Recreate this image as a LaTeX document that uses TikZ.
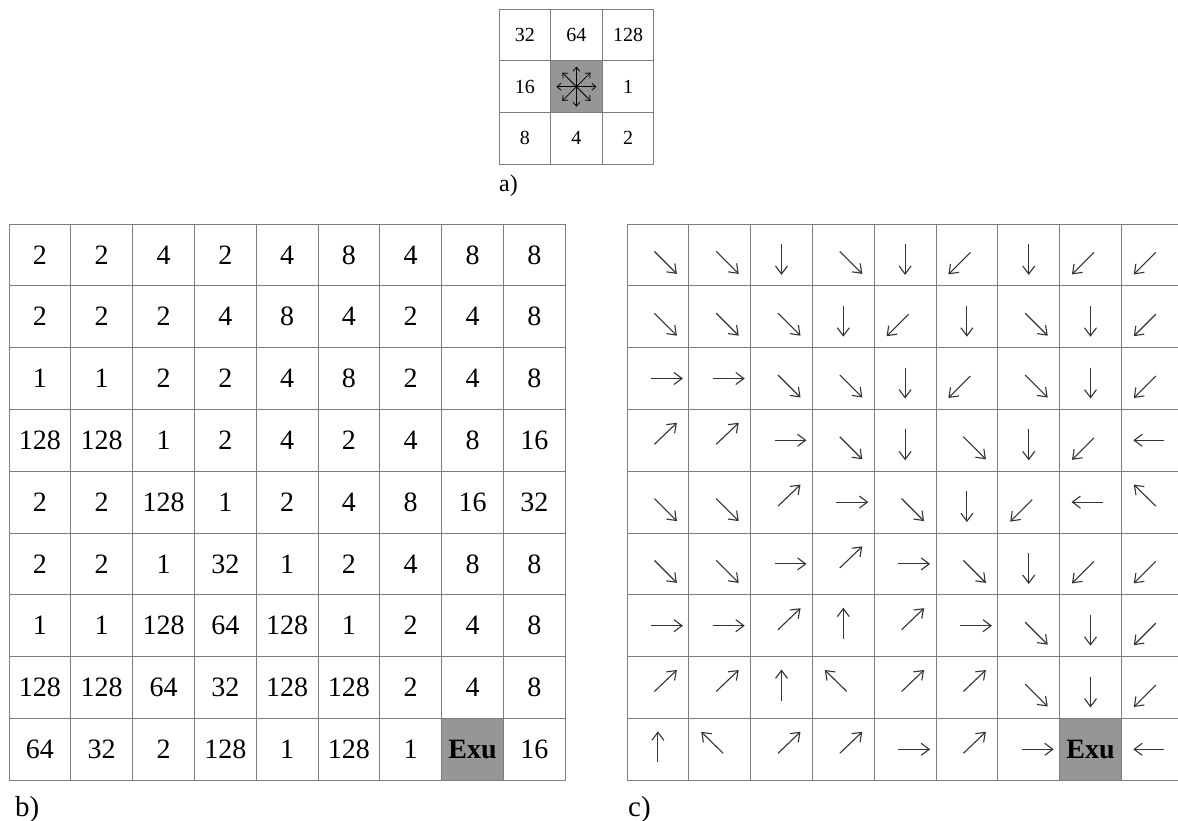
\documentclass[tikz,border=0pt]{standalone}
\usepackage{fontspec}
\setmainfont{Liberation Serif}
\usetikzlibrary{arrows.meta}

\definecolor{gridgray}{RGB}{125,125,125}
\definecolor{exugray}{RGB}{150,150,150}

\tikzset{
  code cell/.style={
    rectangle, draw=gridgray, line width=0.9pt, inner sep=0pt,
    minimum size=61.8pt, font=\fontsize{28}{28}\selectfont
  },
  exu cell/.style={
    code cell, fill=exugray, font=\fontsize{28}{28}\selectfont\bfseries
  },
  key cell/.style={
    rectangle, draw=gridgray, line width=0.9pt, inner sep=0pt,
    minimum size=51.6pt, font=\fontsize{20}{20}\selectfont
  },
  flow arrow/.style={
    draw=black!80, line width=1.1pt, -{Straight Barb[length=8pt,width=12pt]}
  },
  compass arrow/.style={
    draw=black, line width=0.8pt, -{Straight Barb[length=4pt,width=7pt]}
  },
  panel label/.style={
    anchor=base west, inner sep=0pt, font=\fontsize{29}{29}\selectfont
  },
  % one arrow per D8 code, relative to the cell centre
  flow 1/.style={insert path={(-7,0) -- (25,0)}},
  flow 2/.style={insert path={(-3.5,-3.5) -- (19,19)}},
  flow 4/.style={insert path={(0,-11) -- (0,20)}},
  flow 8/.style={insert path={(3.5,-2.5) -- (-18.5,19.5)}},
  flow 16/.style={insert path={(12,0) -- (-19,0)}},
  flow 32/.style={insert path={(3.5,4) -- (-18.5,-17.5)}},
  flow 64/.style={insert path={(0,13) -- (0,-18)}},
  flow 128/.style={insert path={(-3.5,4) -- (19,-17.5)}}
}

\begin{document}
\begin{tikzpicture}[x=1pt, y=-1pt]
\useasboundingbox (0,0) rectangle (1178,821);

% ---------------------------
% a) D8 codes
% ---------------------------
\begin{scope}
  \foreach \row [count=\rw from 0] in {{32,64,128},{16,0,1},{8,4,2}}
    \foreach \v [count=\cl from 0] in \row
      \node[key cell] (a-\rw-\cl) at ({524.8+51.6*\cl},{35.1+51.6*\rw}) {\ifnum\v>0 \v\fi};

  \node[key cell, fill=exugray] (a-mid) at (a-1-1) {};
  \foreach \ang in {0,45,...,315}
    \draw[compass arrow] (a-mid.center) -- ++(\ang:20pt);

  \node[panel label, font=\fontsize{24}{24}\selectfont] (lab-a) at (499,192) {a)};
\end{scope}

% ---------------------------
% b) flow direction codes
% ---------------------------
\begin{scope}
  \foreach \row [count=\rw from 0] in {
      {2,2,4,2,4,8,4,8,8},
      {2,2,2,4,8,4,2,4,8},
      {1,1,2,2,4,8,2,4,8},
      {128,128,1,2,4,2,4,8,16},
      {2,2,128,1,2,4,8,16,32},
      {2,2,1,32,1,2,4,8,8},
      {1,1,128,64,128,1,2,4,8},
      {128,128,64,32,128,128,2,4,8},
      {64,32,2,128,1,128,1,0,16}}
    \foreach \v [count=\cl from 0] in \row
      \node[code cell] (b-\rw-\cl) at ({39.9+61.8*\cl},{254.9+61.8*\rw}) {\ifnum\v>0 \v\fi};

  \node[exu cell] (b-exu) at (b-8-7) {Exu};
  \node[panel label] (lab-b) at (15,816) {b)};
\end{scope}

% ---------------------------
% c) flow directions
% ---------------------------
\begin{scope}
  \foreach \row [count=\rw from 0] in {
      {2,2,4,2,4,8,4,8,8},
      {2,2,2,4,8,4,2,4,8},
      {1,1,2,2,4,8,2,4,8},
      {128,128,1,2,4,2,4,8,16},
      {2,2,128,1,2,4,8,16,32},
      {2,2,1,128,1,2,4,8,8},
      {1,1,128,64,128,1,2,4,8},
      {128,128,64,32,128,128,2,4,8},
      {64,32,128,128,1,128,1,0,16}}
    \foreach \v [count=\cl from 0] in \row {
      \node[code cell] (c-\rw-\cl) at ({657.9+61.8*\cl},{254.9+61.8*\rw}) {};
      \ifnum\v>0
        \draw[flow arrow, shift={(c-\rw-\cl)}, flow \v];
      \fi
    }

  \node[exu cell] (c-exu) at (c-8-7) {Exu};
  \node[panel label] (lab-c) at (628,816) {c)};
\end{scope}

\end{tikzpicture}
\end{document}
